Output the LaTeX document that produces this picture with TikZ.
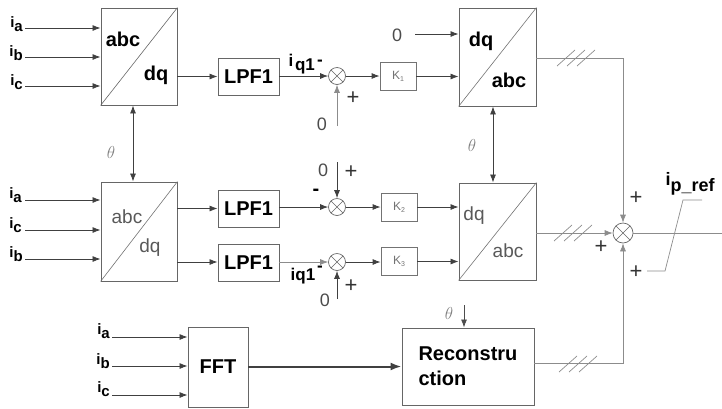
\documentclass[tikz,border=0pt]{standalone}
\usepackage{fontspec}
\setmainfont{Liberation Sans}
\usetikzlibrary{arrows.meta,calc}
\newcommand{\isub}[1]{\textbf{i\raisebox{-0.3em}{#1}}}
\begin{document}
\begin{tikzpicture}[x=1pt,y=-1pt,
  box/.style={draw=black!60, line width=0.9pt, fill=white, inner sep=0pt},
  kbox/.style={draw=black!55, line width=0.8pt, fill=white, inner sep=0pt, minimum width=36pt, minimum height=28pt, text=black!55, font=\fontsize{12}{13}\selectfont},
  lpf/.style={box, minimum width=61pt, minimum height=37pt, font=\fontsize{20}{22}\selectfont\bfseries},
  arr/.style={draw=black!75, line width=0.8pt, -{Latex[length=8pt,width=6pt]}},
  garr/.style={draw=black!45, line width=0.7pt, -{Latex[length=8pt,width=6pt]}},
  gline/.style={draw=black!45, line width=0.7pt},
  dbl/.style={draw=black!75, line width=0.8pt, {Latex[length=8pt,width=6pt]}-{Latex[length=8pt,width=6pt]}},
  sumn/.style={circle, draw=black!60, line width=0.7pt, minimum size=17pt, inner sep=0pt, fill=white,
    path picture={\draw[black!60,line width=0.6pt] (path picture bounding box.north west) -- (path picture bounding box.south east) (path picture bounding box.north east) -- (path picture bounding box.south west);}},
  inlab/.style={font=\fontsize{15}{16}\selectfont, anchor=east, inner sep=0pt},
  zero/.style={font=\fontsize{18}{20}\selectfont, text=black!70, inner sep=0pt},
  pm/.style={font=\fontsize{22}{22}\selectfont, text=black!80, inner sep=0pt},
  thlab/.style={font=\fontsize{18}{18}\selectfont, text=black!50, inner sep=0pt},
  big/.style={font=\fontsize{20}{22}\selectfont\bfseries, inner sep=0pt},
  mid/.style={font=\fontsize{19}{21}\selectfont, text=black!65, inner sep=0pt},
  hash/.style={draw=black!45, line width=0.7pt}
]
\useasboundingbox (0,0) rectangle (722,408);

% ---------- transform boxes ----------
\node[box, minimum width=76pt, minimum height=97pt] (b1) at (139,56.5) {};
\draw[black!60, line width=0.6pt] (b1.south west) -- (b1.north east);
\node[big] (b1t) at (123,39) {abc};
\node[big] (b1b) at (156,75) {dq};

\node[box, minimum width=76pt, minimum height=99pt] (b2) at (139,231.5) {};
\draw[black!55, line width=0.6pt] (b2.south west) -- (b2.north east);
\node[mid] (b2t) at (127,217) {abc};
\node[mid] (b2b) at (150,248) {dq};

\node[box, minimum width=77pt, minimum height=98pt] (b3) at (497.5,57) {};
\draw[black!55, line width=0.6pt] (b3.south west) -- (b3.north east);
\node[big] (b3t) at (481,41) {dq};
\node[big] (b3b) at (509,80) {abc};

\node[box, minimum width=77pt, minimum height=97pt] (b4) at (497.5,231.5) {};
\draw[black!55, line width=0.6pt] (b4.south west) -- (b4.north east);
\node[mid] (b4t) at (474,216) {dq};
\node[mid] (b4b) at (508,251) {abc};

% ---------- LPF, sums, gains ----------
\node[lpf] (l1) at (248.5,76.5) {LPF1};
\node[lpf] (l2) at (248.5,208.5) {LPF1};
\node[lpf] (l3) at (248.5,263) {LPF1};

\node[sumn] (s1) at (337,76) {};
\node[sumn] (s2) at (337,207) {};
\node[sumn] (s3) at (337,262) {};

\node[kbox] (k1) at (398,76.5) {K\raisebox{-0.3ex}{\fontsize{7}{8}\selectfont 1}};
\node[kbox] (k2) at (399,207) {K\raisebox{-0.3ex}{\fontsize{7}{8}\selectfont 2}};
\node[kbox] (k3) at (399,261.5) {K\raisebox{-0.3ex}{\fontsize{7}{8}\selectfont 3}};

\node[sumn, minimum size=20pt] (sf) at (623,233) {};

% ---------- FFT / Reconstruction ----------
\node[box, minimum width=60pt, minimum height=80pt, font=\fontsize{20}{22}\selectfont\bfseries] (fft) at (218,367) {FFT};
\node[box, minimum width=132pt, minimum height=77pt, align=left, font=\fontsize{20}{25}\selectfont\bfseries] (rec) at (468,366.5) {Reconstru\\ction};

% ---------- input labels and arrows ----------
\coordinate (a1) at (25,28); \coordinate (a2) at (25,57); \coordinate (a3) at (25,86);
\node[inlab] (la1) at (23,24) {\isub{a}};
\node[inlab] (la2) at (23,53) {\isub{b}};
\node[inlab] (la3) at (23,82) {\isub{c}};
\draw[arr] (a1) -- (a1 -| b1.west);
\draw[arr] (a2) -- (a2 -| b1.west);
\draw[arr] (a3) -- (a3 -| b1.west);

\coordinate (m1) at (25,200); \coordinate (m2) at (25,230); \coordinate (m3) at (25,259);
\node[inlab] (lm1) at (22,195) {\isub{a}};
\node[inlab] (lm2) at (22,225) {\isub{c}};
\node[inlab] (lm3) at (23,254) {\isub{b}};
\draw[arr] (m1) -- (m1 -| b2.west);
\draw[arr] (m2) -- (m2 -| b2.west);
\draw[arr] (m3) -- (m3 -| b2.west);

\coordinate (f1) at (112,337); \coordinate (f2) at (112,366); \coordinate (f3) at (112,395);
\node[inlab] (lf1) at (110,331) {\isub{a}};
\node[inlab] (lf2) at (110,361) {\isub{b}};
\node[inlab] (lf3) at (110,389) {\isub{c}};
\draw[arr] (f1) -- (f1 -| fft.west);
\draw[arr] (f2) -- (f2 -| fft.west);
\draw[arr] (f3) -- (f3 -| fft.west);

% ---------- signal path ----------
\draw[arr] (b1.east |- l1) -- (l1.west);
\draw[arr] (b2.east |- l2) -- (l2.west);
\draw[arr] (b2.east |- s3) -- (l3.west |- s3);

\draw[arr] (l1.east |- s1) -- (s1.west);
\draw[arr] (l2.east |- s2) -- (s2.west);
\draw[garr] (l3.east |- s3) -- (s3.west);

\draw[arr] (s1.east) -- (k1.west |- s1);
\draw[arr] (s2.east) -- (k2.west |- s2);
\draw[arr] (s3.east) -- (k3.west |- s3);

\draw[arr] (k1.east) -- (b3.west |- k1);
\draw[arr] (k2.east |- s2) -- (b4.west |- s2);
\draw[arr] (k3.east) -- (b4.west |- k3);

% zero inputs
\node[zero] (z0) at (397,35) {0};
\coordinate (z0e) at (415,34);
\draw[arr] (z0e) -- (z0e -| b3.west);

\node[zero] (z1) at (322,124) {0};
\coordinate (z1s) at (337,126);
\draw[garr] (z1s) -- (s1.south);
\node[pm] (p1) at (353,98) {+};
\node[font=\fontsize{17}{18}\selectfont\bfseries, inner sep=0pt] (q1a) at (291,60) {i};
\node[font=\fontsize{17}{18}\selectfont\bfseries, inner sep=0pt] (q1b) at (305,66) {q1};
\node[font=\fontsize{17}{18}\selectfont\bfseries, inner sep=0pt] (q1c) at (320,63) {-};

\node[zero] (z2) at (323,170) {0};
\coordinate (z2s) at (337,162);
\draw[arr] (z2s) -- (s2.north);
\node[pm] (p2) at (351,172) {+};
\node[font=\fontsize{20}{20}\selectfont\bfseries, inner sep=0pt] (n2) at (316,192) {-};

\node[zero] (z3) at (325,300) {0};
\coordinate (z3s) at (337,299);
\draw[arr] (z3s) -- (s3.south);
\node[pm] (p3) at (351,286) {+};
\node[font=\fontsize{17}{18}\selectfont\bfseries, inner sep=0pt] (q3) at (303,276) {iq1};
\node[font=\fontsize{17}{18}\selectfont\bfseries, inner sep=0pt] (q3m) at (320,269) {-};

% theta couplings
\coordinate (t1) at (133,143);
\draw[dbl] (t1 |- b1.south) -- (t1 |- b2.north);
\node[thlab] (th1) at (111,152) {$\theta$};
\coordinate (t2) at (493,143);
\draw[dbl] (t2 |- b3.south) -- (t2 |- b4.north);
\node[thlab] (th2) at (472,145) {$\theta$};
\coordinate (t3) at (464,305);
\draw[arr, draw=black!70] (t3) -- (t3 |- rec.north);
\node[thlab] (th3) at (449,313) {$\theta$};

% FFT -> Reconstruction
\draw[draw=black!75, line width=2pt, -{Latex[length=11pt,width=8pt]}] (fft.east |- rec) -- (rec.west);

% outputs to final sum
\coordinate (c1) at (623,58);
\draw[garr] (b3.east |- c1) -- (c1) -- (sf.north);
\coordinate (c3) at (623,363);
\draw[garr] (rec.east |- c3) -- (c3) -- (sf.south);
\draw[garr] (b4.east |- sf) -- (sf.west);
\coordinate (out) at (722,233);
\draw[gline] (sf.east) -- (out);

% hash marks
\foreach \cx in {566,576,586} \draw[hash] (\cx-9,66) -- (\cx+9,50);
\foreach \cx in {563,573,583} \draw[hash] (\cx-9,241) -- (\cx+9,225);
\foreach \cx in {568,578,588} \draw[hash] (\cx-9,372) -- (\cx+9,356);

% final sum signs and label
\node[pm] (fp1) at (636,198) {+};
\node[pm] (fp2) at (601,247) {+};
\node[pm] (fp3) at (636,272) {+};
\node[font=\fontsize{18}{18}\selectfont\bfseries, inner sep=0pt] (ipr) at (690,184) {i\raisebox{-0.35em}{p\_ref}};
\coordinate (ld1) at (647,271); \coordinate (ld2) at (665,271);
\coordinate (ld3) at (683,200); \coordinate (ld4) at (702,200);
\draw[gline] (ld1) -- (ld2) -- (ld3) -- (ld4);
\end{tikzpicture}
\end{document}
